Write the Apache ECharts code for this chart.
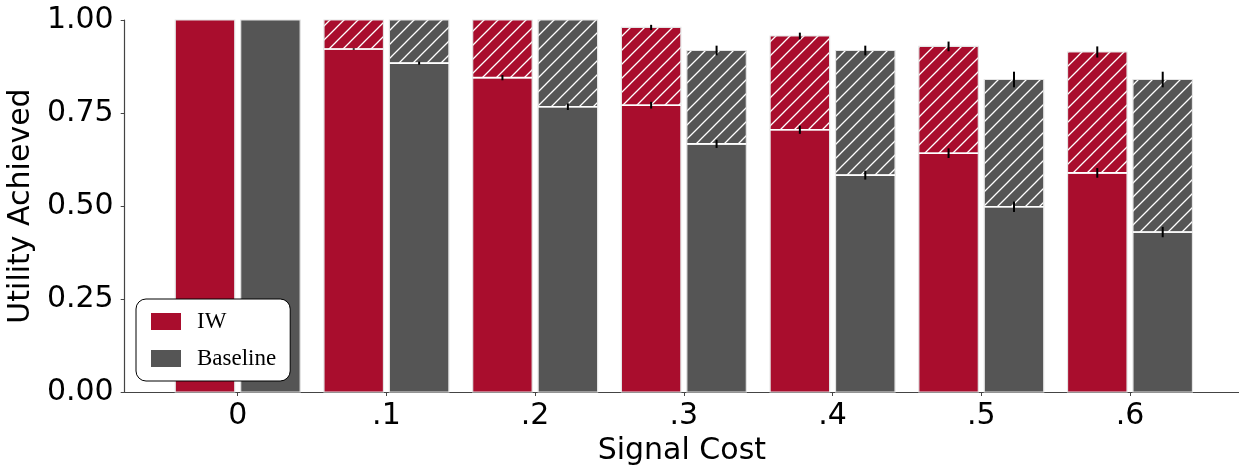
<!DOCTYPE html>
<html>
<head>
<meta charset="utf-8">
<style>
  html, body { margin: 0; padding: 0; background: #ffffff; }
  #chart { width: 1239px; height: 467px; }
</style>
<script src="https://cdn.jsdelivr.net/npm/echarts@6/dist/echarts.min.js"></script>
</head>
<body>
<div id="chart"></div>
<script>
// Signal cost levels (x categories)
const categories = ['0', '.1', '.2', '.3', '.4', '.5', '.6'];

// IW: solid part (lower) and total height including hatched part
const iwSolid    = [1.000, 0.922, 0.845, 0.771, 0.705, 0.642, 0.589];
const iwTotal    = [1.000, 1.000, 1.000, 0.980, 0.957, 0.929, 0.914];
const iwSolidErr = [0.000, 0.002, 0.007, 0.009, 0.011, 0.013, 0.013];
const iwTotalErr = [0.000, 0.000, 0.000, 0.007, 0.009, 0.013, 0.015];

// Baseline: solid part (lower) and total height including hatched part
const blSolid    = [1.000, 0.884, 0.767, 0.667, 0.583, 0.498, 0.430];
const blTotal    = [1.000, 1.000, 1.000, 0.918, 0.918, 0.840, 0.840];
const blSolidErr = [0.000, 0.004, 0.009, 0.011, 0.012, 0.014, 0.014];
const blTotalErr = [0.000, 0.000, 0.000, 0.013, 0.013, 0.021, 0.021];

const yTicks = [0, 0.25, 0.5, 0.75, 1.0];

const RED = '#a90d2d';
const GRAY = '#555555';
const BAR_W = 0.4;
const OFFSET = 0.22;

// Diagonal '/' hatch tile drawn on an offscreen canvas
function hatchPattern(color) {
  const s = 14;
  const c = document.createElement('canvas');
  c.width = s; c.height = s;
  const g = c.getContext('2d');
  g.fillStyle = color;
  g.fillRect(0, 0, s, s);
  g.strokeStyle = '#ffffff';
  g.lineWidth = 1.3;
  g.beginPath();
  g.moveTo(0, s); g.lineTo(s, 0);
  g.moveTo(-2, 2); g.lineTo(2, -2);
  g.moveTo(s - 2, s + 2); g.lineTo(s + 2, s - 2);
  g.stroke();
  return { image: c, repeat: 'repeat' };
}

function makeData(solid, total, solidErr, totalErr) {
  return categories.map((_, i) => [i, solid[i], total[i], solidErr[i], totalErr[i]]);
}

function makeRender(color, offset) {
  const pattern = hatchPattern(color);
  return function (params, api) {
    const idx = api.value(0);
    const solid = api.value(1);
    const total = api.value(2);
    const se = api.value(3);
    const te = api.value(4);
    const x = idx + offset;
    const w = api.size([BAR_W, 0])[0];
    const p0 = api.coord([x, 0]);
    const pS = api.coord([x, solid]);
    const pT = api.coord([x, total]);
    const left = p0[0] - w / 2;
    const children = [];
    // solid lower part
    children.push({
      type: 'rect',
      shape: { x: left, y: pS[1], width: w, height: p0[1] - pS[1] },
      style: { fill: color, stroke: '#e4e4e4', lineWidth: 1.2 }
    });
    // hatched upper part
    if (total > solid) {
      children.push({
        type: 'rect',
        shape: { x: left, y: pT[1], width: w, height: pS[1] - pT[1] },
        style: { fill: pattern, stroke: '#e4e4e4', lineWidth: 1.2 }
      });
      children.push({
        type: 'line',
        shape: { x1: left, y1: pS[1], x2: left + w, y2: pS[1] },
        style: { stroke: '#ffffff', lineWidth: 1.6 }
      });
    }
    // error bars
    [[solid, se], [total, te]].forEach(([v, e]) => {
      if (e > 0) {
        const a = api.coord([x, v - e]);
        const b = api.coord([x, v + e]);
        children.push({
          type: 'line',
          shape: { x1: a[0], y1: a[1], x2: b[0], y2: b[1] },
          style: { stroke: '#000000', lineWidth: 2 }
        });
      }
    });
    return { type: 'group', children };
  };
}

const chart = echarts.init(document.getElementById('chart'), null, { renderer: 'canvas' });

chart.setOption({
  animation: false,
  backgroundColor: '#ffffff',
  grid: { left: 124.7, right: 0, top: 20, bottom: 75, containLabel: false, outerBoundsMode: 'none' },
  legend: {
    left: 136, top: 299,
    orient: 'vertical',
    icon: 'rect',
    itemWidth: 30, itemHeight: 17, itemGap: 14,
    padding: [11, 14, 11, 15],
    backgroundColor: '#ffffff',
    borderColor: '#000000', borderWidth: 1, borderRadius: 10,
    textStyle: { fontFamily: 'Liberation Serif', fontSize: 23, color: '#000000', padding: [0, 0, 0, 11] },
    data: ['IW', 'Baseline']
  },
  xAxis: {
    type: 'value',
    min: -0.76, max: 6.733,
    name: 'Signal Cost',
    nameLocation: 'middle',
    nameGap: 44,
    nameTextStyle: { fontFamily: 'DejaVu Sans', fontSize: 30, color: '#000000' },
    splitLine: { show: false },
    axisLine: { show: true, onZero: false, lineStyle: { color: '#444444', width: 1.2 } },
    axisTick: { show: true, length: 4, lineStyle: { color: '#444444' }, customValues: categories.map((_, i) => i) },
    axisLabel: {
      fontFamily: 'DejaVu Sans', fontSize: 30, color: '#000000', margin: 9,
      customValues: categories.map((_, i) => i),
      formatter: v => categories[Math.round(v)]
    }
  },
  yAxis: {
    type: 'value',
    min: 0, max: 1, interval: 0.25,
    name: 'Utility Achieved',
    nameLocation: 'middle',
    nameGap: 81,
    nameTextStyle: { fontFamily: 'DejaVu Sans', fontSize: 30, color: '#000000' },
    splitLine: { show: false },
    axisLine: { show: true, onZero: false, lineStyle: { color: '#444444', width: 1.2 } },
    axisTick: { show: true, length: 4, lineStyle: { color: '#444444' } },
    axisLabel: {
      fontFamily: 'DejaVu Sans', fontSize: 30, color: '#000000', margin: 11,
      customValues: yTicks,
      formatter: v => v.toFixed(2)
    }
  },
  series: [
    {
      name: 'IW', type: 'custom',
      itemStyle: { color: RED },
      renderItem: makeRender(RED, -OFFSET),
      encode: { x: 0, y: [1, 2] },
      data: makeData(iwSolid, iwTotal, iwSolidErr, iwTotalErr)
    },
    {
      name: 'Baseline', type: 'custom',
      itemStyle: { color: GRAY },
      renderItem: makeRender(GRAY, OFFSET),
      encode: { x: 0, y: [1, 2] },
      data: makeData(blSolid, blTotal, blSolidErr, blTotalErr)
    }
  ]
});
</script>
</body>
</html>
